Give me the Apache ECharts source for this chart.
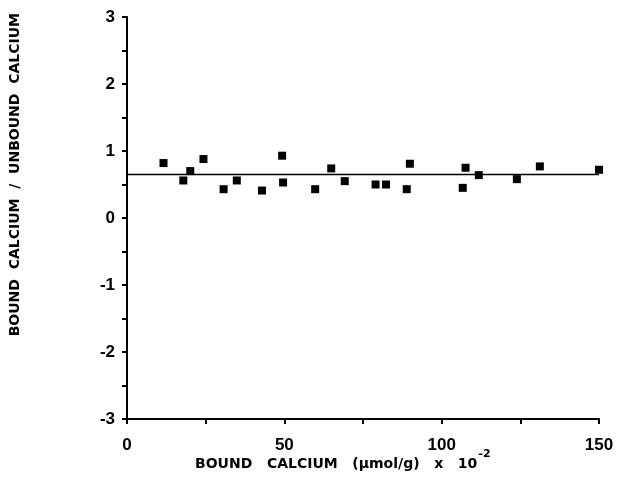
<html><head>
<meta charset="utf-8">
<title>Bound / unbound calcium</title>
<script src="https://cdn.jsdelivr.net/npm/echarts@6/dist/echarts.min.js"></script>
<style>
  html, body { margin: 0; padding: 0; background: #fff; }
  #main { width: 620px; height: 504px; }
</style>
</head>
<body>
<div id="main"></div>
<script>
  // data
  var boundCa = [11.6, 17.9, 20.1, 24.3, 30.7, 34.9, 42.9, 49.3, 49.6, 59.8, 64.9, 69.2,
                 79.0, 82.3, 88.9, 89.9, 106.7, 107.6, 111.8, 123.9, 131.2, 150];
  var ratio   = [0.82, 0.56, 0.70, 0.88, 0.43, 0.56, 0.41, 0.93, 0.53, 0.43, 0.74, 0.55,
                 0.50, 0.50, 0.43, 0.81, 0.45, 0.75, 0.64, 0.58, 0.77, 0.72];
  var fitX = [0, 150];
  var fitY = [0.65, 0.65];

  var points = boundCa.map(function (x, i) { return [x, ratio[i]]; });
  var fit = fitX.map(function (x, i) { return [x, fitY[i]]; });

  var myChart = echarts.init(document.getElementById('main'));
  var tickFont = { color: '#000', fontFamily: 'Liberation Sans', fontWeight: 'bold', fontSize: 17 };
  var axisStyle = { color: '#000', width: 2 };

  var option = {
    animation: false,
    backgroundColor: '#fff',
    grid: { left: 127, right: 21, top: 17, bottom: 85 },
    xAxis: {
      type: 'value', min: 0, max: 150, interval: 50,
      axisLine: { onZero: false, lineStyle: axisStyle },
      axisTick: { show: true, length: 5, lineStyle: axisStyle },
      minorTick: { show: true, splitNumber: 2, length: 5, lineStyle: axisStyle },
      splitLine: { show: false },
      axisLabel: Object.assign({ margin: 18 }, tickFont)
    },
    yAxis: {
      type: 'value', min: -3, max: 3, interval: 1,
      axisLine: { show: true, onZero: false, lineStyle: axisStyle },
      axisTick: { show: true, length: 5, lineStyle: axisStyle },
      minorTick: { show: true, splitNumber: 2, length: 5, lineStyle: axisStyle },
      splitLine: { show: false },
      axisLabel: Object.assign({ margin: 12 }, tickFont)
    },
    graphic: [
      {
        type: 'text', left: 8, top: 13, rotation: Math.PI / 2,
        style: {
          text: 'BOUND  CALCIUM  /  UNBOUND  CALCIUM',
          fill: '#000', font: 'bold 14px "DejaVu Sans"'
        }
      },
      {
        type: 'text', left: 195, top: 449,
        style: {
          text: '{a|BOUND   CALCIUM   (\u03bcmol/g)   x   10}{s|-2}',
          rich: {
            a: { fill: '#000', fontFamily: 'DejaVu Sans', fontWeight: 'bold', fontSize: 14, verticalAlign: 'bottom', lineHeight: 22 },
            s: { fill: '#000', fontFamily: 'DejaVu Sans', fontWeight: 'bold', fontSize: 11, verticalAlign: 'top', lineHeight: 22, padding: [0, 0, 10, 1] }
          }
        }
      }
    ],
    series: [
      {
        type: 'line', data: fit, symbol: 'none',
        lineStyle: { color: '#000', width: 1.5 }
      },
      {
        type: 'scatter', data: points, symbol: 'rect', symbolSize: 8,
        itemStyle: { color: '#000', opacity: 1 }
      }
    ]
  };

  myChart.setOption(option);
</script>
</body>
</html>
